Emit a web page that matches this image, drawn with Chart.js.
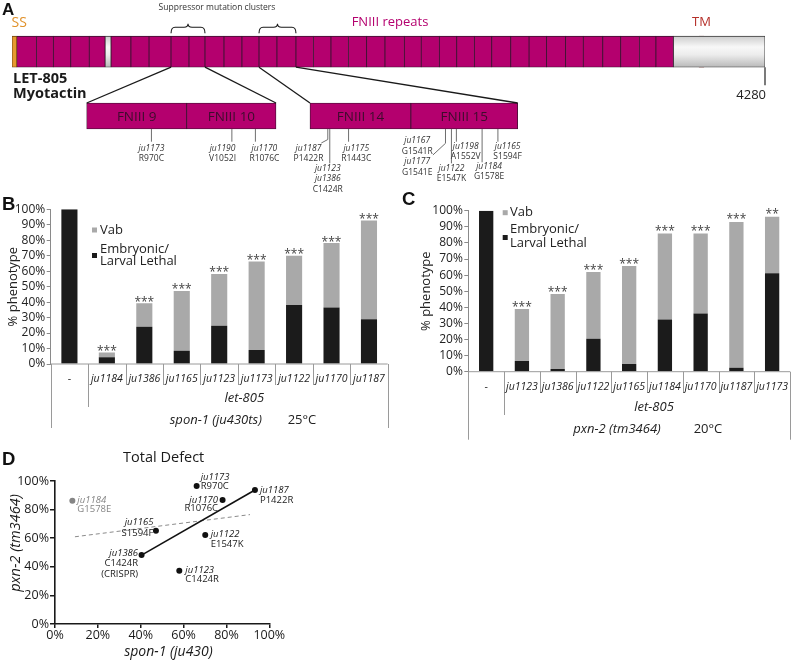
<!DOCTYPE html>
<html>
<head>
<meta charset="utf-8">
<script src="https://cdn.jsdelivr.net/npm/chart.js@4.4.0/dist/chart.umd.min.js"></script>
<style>
  html, body { margin: 0; padding: 0; background: #fff; }
  body { width: 792px; height: 661px; position: relative; overflow: hidden; }
  canvas { position: absolute; }
</style>
</head>
<body>
<canvas id="chartA" width="792" height="195" style="left:0px;top:0px"></canvas>
<canvas id="chartB" width="395" height="245" style="left:0px;top:190px"></canvas>
<canvas id="chartC" width="397" height="250" style="left:395px;top:190px"></canvas>
<canvas id="chartD" width="300" height="221" style="left:0px;top:440px"></canvas>
<script>
// ---- panel A: LET-805 domains (residues, protein length 4280) ----
const proteinLength = 4280;
const ssRange = [0, 27];
const fnStart = [27, 140, 235, 334, 439, 563, 676, 779, 904, 1006, 1097, 1205, 1307, 1404, 1506, 1614, 1713, 1813,
  1912, 2016, 2120, 2230, 2326, 2429, 2528, 2628, 2727, 2835, 2939, 3039, 3147, 3247, 3358, 3460, 3566, 3660];
const fnEnd = [140, 235, 334, 439, 529, 676, 779, 904, 1006, 1097, 1205, 1307, 1404, 1506, 1614, 1713, 1813, 1912,
  2016, 2120, 2230, 2326, 2429, 2528, 2628, 2727, 2835, 2939, 3039, 3147, 3247, 3358, 3460, 3566, 3660, 3759];
const otherRanges = [[529, 563], [3759, 4280]];
const tmRange = [3905, 3933];
const zoomGroups = [[9, 10], [14, 15]];

const mutResidue = [970, 1052, 1076, 1422, 1424, 1443, 1541, 1547, 1552, 1578, 1594];
const mutLabels = [
  ["ju1173", "R970C"], ["ju1190", "V1052I"], ["ju1170", "R1076C"], ["ju1187", "P1422R"],
  ["ju1123", "ju1386", "C1424R"], ["ju1175", "R1443C"], ["ju1167", "G1541R", "ju1177", "G1541E"],
  ["ju1122", "E1547K"], ["ju1198", "A1552V"], ["ju1184", "G1578E"], ["ju1165", "S1594F"]
];

// ---- panel B: spon-1(ju430ts) 25C, % phenotype ----
const bAlleles = ["-", "ju1184", "ju1386", "ju1165", "ju1123", "ju1173", "ju1122", "ju1170", "ju1187"];
const bLethal = [100, 4.3, 24.1, 8.6, 24.8, 9.1, 38.1, 36.6, 28.9];
const bVab = [0, 3.2, 15.1, 38.6, 33.4, 57.1, 31.9, 41.6, 63.8];
const bStars = ["", "***", "***", "***", "***", "***", "***", "***", "***"];

// ---- panel C: pxn-2(tm3464) 20C ----
const cAlleles = ["-", "ju1123", "ju1386", "ju1122", "ju1165", "ju1184", "ju1170", "ju1187", "ju1173"];
const cLethal = [100, 6.7, 1.7, 20.5, 4.8, 32.5, 36.2, 2.5, 61.1];
const cVab = [0, 32.2, 46.5, 41.4, 60.8, 53.4, 49.7, 90.5, 35.2];
const cStars = ["", "***", "***", "***", "***", "***", "***", "***", "**"];

// ---- panel D: total defect ----
const dAlleles = ["ju1184", "ju1173", "ju1170", "ju1187", "ju1165", "ju1122", "ju1386", "ju1123"];
const dChanges = [["G1578E"], ["R970C"], ["R1076C"], ["P1422R"], ["S1594F"], ["E1547K"], ["C1424R", "(CRISPR)"], ["C1424R"]];
const dSpon = [8.1, 66.1, 78.2, 93.3, 47.1, 70.1, 40.4, 58];
const dPxn = [86.2, 96.5, 86.7, 93.7, 65.2, 62.2, 48.2, 37.3];
const fitX = [40.4, 93.3];
const fitY = [48.2, 93.7];
const fitAllX = [9.3, 91];
const fitAllY = [61, 76.5];

// ---- styles ----
const FONT = "'Open Sans', 'DejaVu Sans', sans-serif";
const MAGENTA = "#b4006e";
const LETHAL = "#1b1b1b";
const VAB = "#a9a9a9";
Chart.defaults.font.family = FONT;
Chart.defaults.animation = false;

function f(size, style) { return (style || "") + " " + size + "px " + FONT; }
function text(ctx, s, x, y, font, color, align, base) {
  ctx.font = font;
  ctx.fillStyle = color;
  ctx.textAlign = align || "left";
  ctx.textBaseline = base || "middle";
  ctx.fillText(s, x, y);
}
function line(ctx, x0, y0, x1, y1) {
  ctx.beginPath(); ctx.moveTo(x0, y0); ctx.lineTo(x1, y1); ctx.stroke();
}
function letter(ctx, s, x, y, size) {
  text(ctx, s, x, y, "bold " + size + "px 'Liberation Sans', Arial, sans-serif", "#111", "left", "alphabetic");
}

// ================= panel A =================
const PROT_H = 31, ZOOM_H = 26;
const A_LEFT = 12, A_RIGHT = 765;
const zoomPx = [[86.7, 276], [310, 517.7]];
const mutLayout = [
  { len: 12.7, dx: 0, dy: 19.3 },
  { len: 12.7, dx: -9.3, dy: 19.3 },
  { len: 12.7, dx: 9, dy: 19.3 },
  { len: 10.5, dx: -19.3, dy: 19.3, bend: [-6.5, 3.5] },
  { len: 34.3, dx: -2, dy: 39.3, gap: 10.5 },
  { len: 12.7, dx: 7.7, dy: 19.3 },
  { len: 14.3, dx: -28.3, dy: 12, gap: 10.4, bend: [-12.6, 11.7] },
  { len: 34.3, dx: 0, dy: 39.3 },
  { len: 12.7, dx: 9.3, dy: 17.7 },
  { len: 33.3, dx: 7, dy: 37.7 },
  { len: 12.7, dx: 9.7, dy: 17.7 }
];

function zoomAxis(g) {
  const grp = zoomGroups[g];
  const r0 = fnStart[grp[0] - 1], r1 = fnEnd[grp[grp.length - 1] - 1];
  const p0 = zoomPx[g][0], p1 = zoomPx[g][1];
  const k = (p1 - p0) / (r1 - r0);
  const min = r0 - (p0 - A_LEFT) / k;
  return { type: "linear", display: false, bounds: "data", min: min, max: min + (A_RIGHT - A_LEFT) / k };
}

function grayFill(chart) {
  if (!chart.chartArea) return "#e0e0e0";
  const yc = chart.scales.y.getPixelForValue(0);
  const g = chart.ctx.createLinearGradient(0, yc - PROT_H / 2, 0, yc + PROT_H / 2);
  g.addColorStop(0, "#cdcdcd");
  g.addColorStop(0.35, "#f8f8f8");
  g.addColorStop(0.6, "#ececec");
  g.addColorStop(1, "#b9b9b9");
  return g;
}

const barCommon = { grouped: false, borderSkipped: false, borderWidth: 0.8, borderColor: "#3a1430" };

const panelA = {
  id: "panelA",
  afterDatasetsDraw(chart) {
    const ctx = chart.ctx, sx = chart.scales.x, sy = chart.scales.y;
    const yP = sy.getPixelForValue(0), yZ = sy.getPixelForValue(1);
    const pTop = yP - PROT_H / 2, pBot = yP + PROT_H / 2;
    const zTop = yZ - ZOOM_H / 2, zBot = yZ + ZOOM_H / 2;
    ctx.save();
    zoomGroups.forEach((grp, g) => {
      const sz = chart.scales["xz" + (g + 1)];
      const r0 = fnStart[grp[0] - 1], r1 = fnEnd[grp[grp.length - 1] - 1];
      ctx.strokeStyle = "#1a1a1a"; ctx.lineWidth = 1.3;
      line(ctx, sx.getPixelForValue(r0), pBot, sz.getPixelForValue(r0), zTop);
      line(ctx, sx.getPixelForValue(r1), pBot, sz.getPixelForValue(r1), zTop);
      // curly brace above the cluster
      const x0 = sx.getPixelForValue(r0), x1 = sx.getPixelForValue(r1), xm = (x0 + x1) / 2;
      const yEnd = pTop - 3, yMid = pTop - 9, yTip = pTop - 12.5, r = 4;
      ctx.lineWidth = 1.1;
      ctx.beginPath();
      ctx.moveTo(x0, yEnd);
      ctx.quadraticCurveTo(x0, yMid, x0 + r, yMid);
      ctx.lineTo(xm - r, yMid);
      ctx.quadraticCurveTo(xm, yMid, xm, yTip);
      ctx.quadraticCurveTo(xm, yMid, xm + r, yMid);
      ctx.lineTo(x1 - r, yMid);
      ctx.quadraticCurveTo(x1, yMid, x1, yEnd);
      ctx.stroke();
      grp.forEach(n => {
        const mid = (fnStart[n - 1] + fnEnd[n - 1]) / 2;
        text(ctx, "FNIII " + n, sz.getPixelForValue(mid), yZ + 1, f(13.5), "#3d0c2c", "center");
      });
    });
    // mutations
    mutResidue.forEach((res, i) => {
      const g = zoomGroups.findIndex(grp => res >= fnStart[grp[0] - 1] && res <= fnEnd[grp[grp.length - 1] - 1]);
      const sz = chart.scales["xz" + (g + 1)];
      const xm = sz.getPixelForValue(res);
      const L = mutLayout[i];
      ctx.strokeStyle = "#6e6e6e"; ctx.lineWidth = 1;
      ctx.beginPath();
      ctx.moveTo(xm, zBot);
      ctx.lineTo(xm, zBot + L.len);
      if (L.bend) ctx.lineTo(xm + L.bend[0], zBot + L.len + L.bend[1]);
      ctx.stroke();
      mutLabels[i].forEach((s, j) => {
        const it = s.indexOf("ju") === 0;
        text(ctx, s, xm + L.dx, zBot + L.dy + j * (L.gap || 10), f(8.5, it ? "italic" : ""), "#333", "center");
      });
    });
    // labels
    letter(ctx, "A", 2, 15, 17);
    text(ctx, "SS", 11.5, 23, f(14), "#e0912a");
    text(ctx, "Suppressor mutation clusters", 217, 7.5, f(8.5), "#333", "center");
    text(ctx, "FNIII repeats", 390, 22, f(13), MAGENTA, "center");
    text(ctx, "TM", sx.getPixelForValue((tmRange[0] + tmRange[1]) / 2), 22, f(13), "#b5302a", "center");
    text(ctx, "LET-805", 13, 79, f(14.5, "bold"), "#1a1a1a");
    text(ctx, "Myotactin", 13, 93.5, f(14.5, "bold"), "#1a1a1a");
    const xe = sx.getPixelForValue(proteinLength);
    ctx.strokeStyle = "#222"; ctx.lineWidth = 1.2;
    line(ctx, xe, pBot, xe, pBot + 18);
    text(ctx, String(proteinLength), xe + 1, 95, f(13), "#222", "right");
    ctx.restore();
  }
};

new Chart(document.getElementById("chartA"), {
  type: "bar",
  data: {
    labels: ["protein", "zoom"],
    datasets: [
      Object.assign({}, barCommon, { label: "SS", data: [{ x: ssRange, y: "protein" }],
        backgroundColor: "#e6992f", borderColor: "#6b4210", barThickness: PROT_H }),
      Object.assign({}, barCommon, { label: "FNIII repeats",
        data: fnStart.map((s, i) => ({ x: [s, fnEnd[i]], y: "protein" })),
        backgroundColor: MAGENTA, barThickness: PROT_H }),
      Object.assign({}, barCommon, { label: "other",
        data: otherRanges.map(r => ({ x: r, y: "protein" })),
        backgroundColor: c => grayFill(c.chart), borderColor: "#3a3a3a", barThickness: PROT_H }),
      Object.assign({}, barCommon, { label: "TM", data: [{ x: tmRange, y: "protein" }],
        backgroundColor: "#c0392b", borderColor: "#7a1c12", barThickness: PROT_H }),
      ...zoomGroups.map((grp, g) => Object.assign({}, barCommon, {
        label: "zoom " + g, xAxisID: "xz" + (g + 1),
        data: grp.map(n => ({ x: [fnStart[n - 1], fnEnd[n - 1]], y: "zoom" })),
        backgroundColor: MAGENTA, barThickness: ZOOM_H
      }))
    ]
  },
  options: {
    indexAxis: "y",
    responsive: false,
    animation: false,
    layout: { padding: { left: A_LEFT, right: 792 - A_RIGHT, top: 19.55, bottom: 46.85 } },
    plugins: { legend: { display: false }, tooltip: { enabled: false } },
    scales: {
      x: { type: "linear", display: false, bounds: "data", min: 0, max: proteinLength },
      xz1: zoomAxis(0),
      xz2: zoomAxis(1),
      y: { type: "category", display: false }
    }
  },
  plugins: [panelA]
});

// ================= panels B and C =================
function stackDecor(cfg) {
  return {
    id: "stackDecor",
    afterDatasetsDraw(chart) {
      const ctx = chart.ctx, ca = chart.chartArea, sx = chart.scales.x, sy = chart.scales.y;
      const labels = chart.data.labels, n = labels.length;
      const w = (sx.getPixelForValue(n - 1) - sx.getPixelForValue(0)) / (n - 1);
      const edge = k => sx.getPixelForValue(0) - w / 2 + k * w;
      const y0 = sy.getPixelForValue(0);
      ctx.save();
      ctx.strokeStyle = "#9a9a9a"; ctx.lineWidth = 1;
      line(ctx, ca.left, y0, ca.right, y0);
      for (let k = 0; k <= n; k++) {
        const depth = (k === 0 || k === n) ? cfg.outer : (k === 1 ? cfg.group : cfg.inner);
        const xk = Math.round(edge(k)) + 0.5;
        line(ctx, xk, y0, xk, y0 + depth);
      }
      labels.forEach((lab, i) => text(ctx, lab, sx.getPixelForValue(i), y0 + cfg.labelY,
        f(10.5, lab === "-" ? "" : "italic"), "#222", "center"));
      text(ctx, cfg.group_label, cfg.groupX, y0 + cfg.groupY, f(13, "italic"), "#222", "center");
      cfg.bottom.forEach(b => text(ctx, b.t, b.x, y0 + cfg.bottomY, f(13, b.it ? "italic" : ""), "#222", "center"));
      // significance stars above each stack
      const top = chart.getDatasetMeta(1);
      cfg.stars.forEach((s, i) => {
        if (s) text(ctx, s, top.data[i].x, top.data[i].y + cfg.starDy, f(12), "#444", "center", "alphabetic");
      });
      // legend
      const lg = cfg.legend;
      const vabSet = chart.data.datasets[1], lethalSet = chart.data.datasets[0];
      ctx.fillStyle = vabSet.backgroundColor;
      ctx.fillRect(lg.sx, lg.vabY - 2.5, 5, 5);
      text(ctx, vabSet.label, lg.tx, lg.vabY, f(13), "#222");
      ctx.fillStyle = lethalSet.backgroundColor;
      ctx.fillRect(lg.sx, lg.sqY - 2.5, 5, 5);
      lethalSet.label.split("\n").forEach((s, j) => text(ctx, s, lg.tx, lg.l1 + j * lg.gap, f(13), "#222"));
      letter(ctx, cfg.letter[0], cfg.letter[1], cfg.letter[2], 18.5);
      ctx.restore();
    }
  };
}

function stackedChart(id, alleles, lethal, vab, L) {
  return new Chart(document.getElementById(id), {
    type: "bar",
    data: {
      labels: alleles,
      datasets: [
        { label: "Embryonic/\nLarval Lethal", data: lethal, backgroundColor: LETHAL },
        { label: "Vab", data: vab, backgroundColor: VAB }
      ]
    },
    options: {
      responsive: false,
      animation: false,
      layout: { padding: { top: L.top, right: L.right, bottom: L.bottom, left: 0 } },
      datasets: { bar: { categoryPercentage: 1, barPercentage: L.barPct } },
      plugins: { legend: { display: false }, tooltip: { enabled: false } },
      scales: {
        x: { stacked: true, display: false },
        y: {
          stacked: true, min: 0, max: 100,
          afterFit: s => { s.width = L.axisW; },
          ticks: { stepSize: 10, autoSkip: false, callback: v => v + "%", color: "#222", font: { size: 12 }, padding: 1.5 },
          grid: { drawOnChartArea: false, tickLength: 4, color: "#8a8a8a" },
          border: { color: "#8a8a8a" },
          title: { display: true, text: "% phenotype", color: "#222", font: { size: 13 },
            padding: { top: L.titlePad, bottom: 0 } }
        }
      }
    },
    plugins: [stackDecor(L.decor)]
  });
}

stackedChart("chartB", bAlleles, bLethal, bVab, {
  top: 19.3, right: 7.3, bottom: 71, axisW: 50.7, barPct: 0.43, titlePad: 5.5,
  decor: {
    stars: bStars, starDy: 2.5, inner: 21, group: 43, outer: 64,
    labelY: 15.5, groupY: 34.3, bottomY: 56, group_label: "let-805", groupX: 244.3,
    bottom: [{ t: "spon-1 (ju430ts)", it: true, x: 215.8 }, { t: "25°C", it: false, x: 302 }],
    legend: { sx: 92, tx: 100, vabY: 40, sqY: 65.5, l1: 59.3, gap: 12.4 },
    letter: ["B", 2, 20]
  }
});

stackedChart("chartC", cAlleles, cLethal, cVab, {
  top: 20.7, right: 2, bottom: 68.3, axisW: 73.3, barPct: 0.40, titlePad: 23.9,
  decor: {
    stars: cStars, starDy: 1.5, inner: 21.3, group: 43.3, outer: 68,
    labelY: 15.3, groupY: 35.3, bottomY: 57.8, group_label: "let-805", groupX: 259,
    bottom: [{ t: "pxn-2 (tm3464)", it: true, x: 222 }, { t: "20°C", it: false, x: 313 }],
    legend: { sx: 107.7, tx: 115, vabY: 22.7, sqY: 47.5, l1: 39.3, gap: 14 },
    letter: ["C", 7, 15]
  }
});

// ================= panel D =================
const dLabelPos = [
  { dx: 5, dy: -0.5, gap: 9, align: "left" },
  { dx: 4, dy: -8.7, gap: 9.4, align: "left" },
  { dx: -4.5, dy: 0, gap: 8.5, align: "right" },
  { dx: 5, dy: 0, gap: 10, align: "left" },
  { dx: -2.5, dy: -8, gap: 11, align: "right" },
  { dx: 5.5, dy: -0.5, gap: 9.5, align: "left" },
  { dx: -3.5, dy: -1.7, gap: 10.3, align: "right" },
  { dx: 6, dy: -0.5, gap: 9, align: "left" }
];

const panelD = {
  id: "panelD",
  afterDatasetsDraw(chart) {
    const ctx = chart.ctx;
    const meta = chart.getDatasetMeta(0);
    ctx.save();
    dAlleles.forEach((a, i) => {
      const p = meta.data[i], L = dLabelPos[i];
      const col = a === "ju1184" ? "#858585" : "#1a1a1a";
      const lines = [a].concat(dChanges[i]);
      lines.forEach((s, j) => text(ctx, s, p.x + L.dx, p.y + L.dy + j * L.gap,
        f(9.5, j === 0 ? "italic" : ""), col, L.align));
    });
    text(ctx, "Total Defect", 163.7, 18, f(14.5), "#1a1a1a", "center");
    text(ctx, "spon-1 (ju430)", 168.5, 211.7, f(14, "italic"), "#1a1a1a", "center");
    ctx.translate(15.7, 103);
    ctx.rotate(-Math.PI / 2);
    text(ctx, "pxn-2 (tm3464)", 0, 0, f(14.5, "italic"), "#1a1a1a", "center");
    ctx.setTransform(1, 0, 0, 1, 0, 0);
    letter(ctx, "D", 2, 25, 18.5);
    ctx.restore();
  }
};

new Chart(document.getElementById("chartD"), {
  type: "scatter",
  data: {
    datasets: [
      {
        label: "alleles", data: dSpon.map((x, i) => ({ x: x, y: dPxn[i] })),
        pointRadius: 3, pointBorderWidth: 0,
        pointBackgroundColor: c => dAlleles[c.dataIndex] === "ju1184" ? "#858585" : "#111"
      },
      {
        label: "fit", data: fitX.map((x, i) => ({ x: x, y: fitY[i] })),
        showLine: true, pointRadius: 0, borderColor: "#111", borderWidth: 1.6
      },
      {
        label: "fit all", data: fitAllX.map((x, i) => ({ x: x, y: fitAllY[i] })),
        showLine: true, pointRadius: 0, borderColor: "#8a8a8a", borderWidth: 1, borderDash: [4, 3]
      }
    ]
  },
  options: {
    responsive: false,
    animation: false,
    layout: { padding: { top: 41, right: 30.7, left: 0, bottom: 0 } },
    plugins: { legend: { display: false }, tooltip: { enabled: false } },
    scales: {
      x: {
        type: "linear", min: 0, max: 100,
        afterFit: s => { s.height = 37; },
        ticks: { stepSize: 20, autoSkip: false, callback: v => v + "%", color: "#1a1a1a", font: { size: 12.5 }, padding: 0 },
        grid: { drawOnChartArea: false, tickLength: 4, color: "#1a1a1a", lineWidth: 1.5 },
        border: { color: "#1a1a1a", width: 1.6 }
      },
      y: {
        type: "linear", min: 0, max: 100,
        afterFit: s => { s.width = 55; },
        ticks: { stepSize: 20, autoSkip: false, callback: v => v + "%", color: "#1a1a1a", font: { size: 12.5 }, padding: 1 },
        grid: { drawOnChartArea: false, tickLength: 5, color: "#1a1a1a", lineWidth: 1.5 },
        border: { color: "#1a1a1a", width: 1.6 }
      }
    }
  },
  plugins: [panelD]
});
</script>
</body>
</html>
